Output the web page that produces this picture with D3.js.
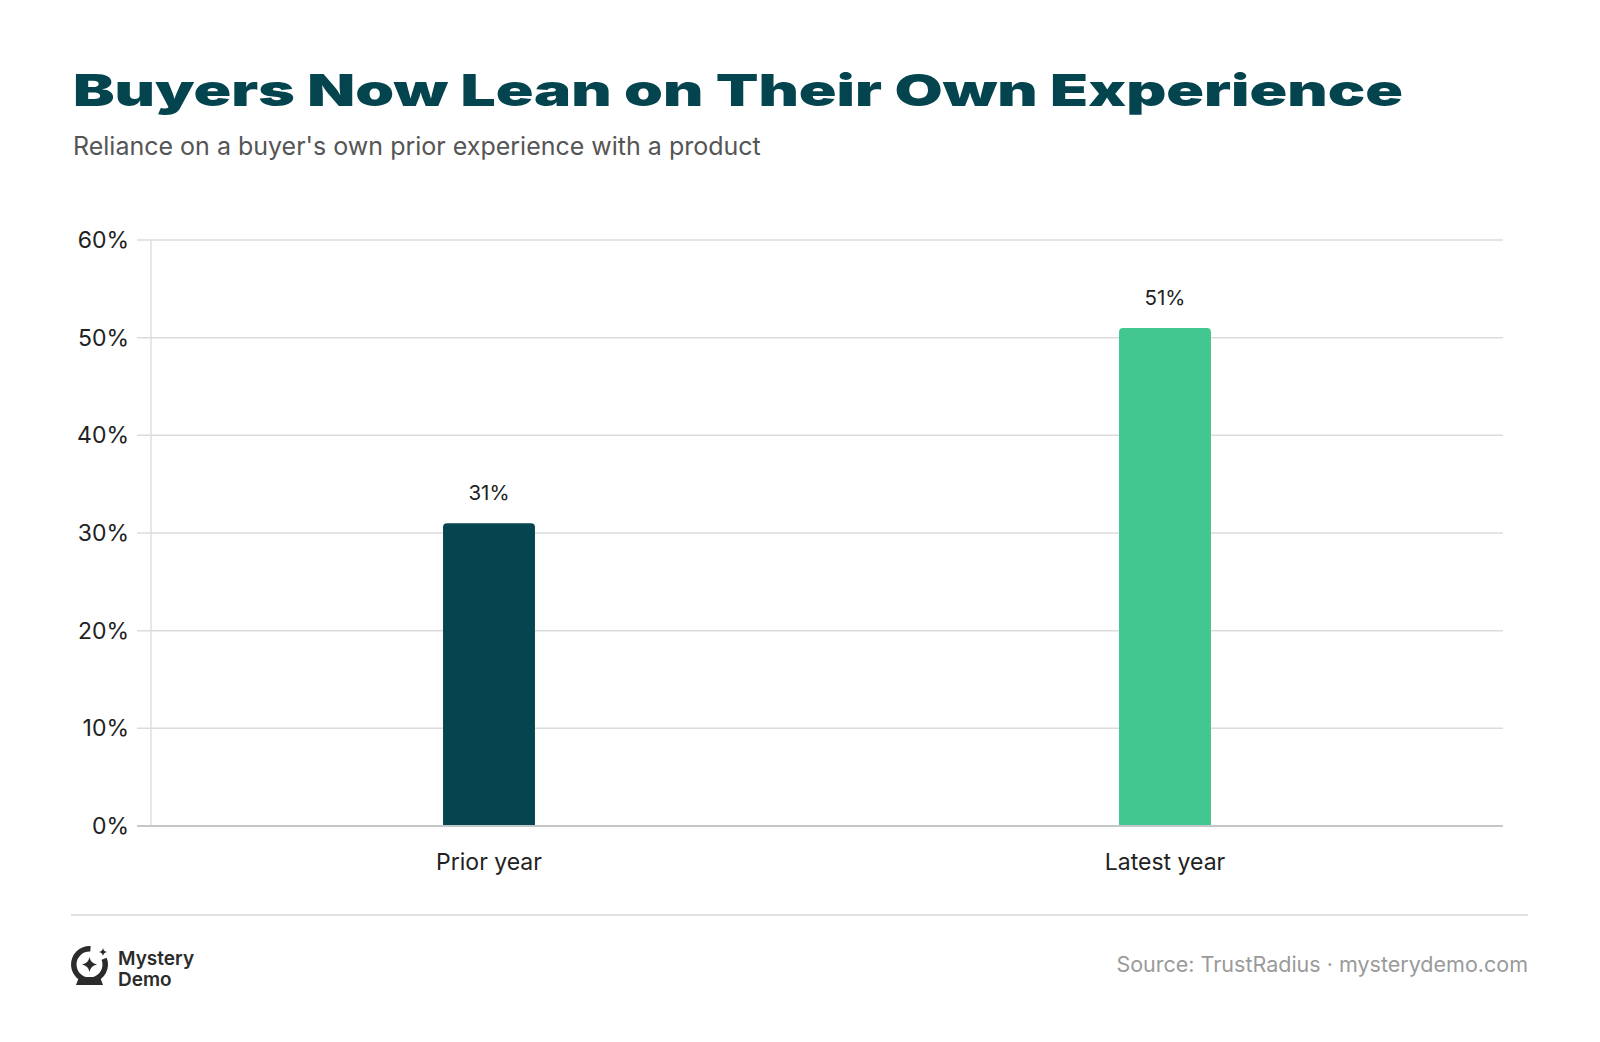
<!DOCTYPE html>
<html><head><meta charset="utf-8">
<script src="https://cdn.jsdelivr.net/npm/d3@7"></script>
<style>body{margin:0;background:#fff}svg{display:block}</style>
</head><body>
<script>
const categories = ["Prior year", "Latest year"];
const values = [31, 51];
const barColors = ["#04454f", "#41c78f"];
const yTicks = [0, 10, 20, 30, 40, 50, 60];
const titleText = "Buyers Now Lean on Their Own Experience";
const subtitleText = "Reliance on a buyer's own prior experience with a product";
const sourceText = "Source: TrustRadius · mysterydemo.com";

const W = 1600, H = 1042;
const svg = d3.select("body").append("svg").attr("width", W).attr("height", H);
svg.append("rect").attr("width", W).attr("height", H).attr("fill", "#fff");

svg.append("text").attr("x", 73).attr("y", 106)
  .attr("font-family", "Inter, 'DejaVu Sans', sans-serif").attr("font-weight", 900)
  .attr("font-size", 44).attr("fill", "#04444e")
  .attr("textLength", 1330).attr("lengthAdjust", "spacingAndGlyphs")
  .text(titleText);

svg.append("text").attr("x", 73).attr("y", 155)
  .attr("font-family", "Inter, sans-serif").attr("font-size", 25).attr("fill", "#555")
  .text(subtitleText);

const x0 = 151, x1 = 1503, yTop = 240, yBot = 826;
const x = d3.scaleBand().domain(categories).range([x0, x1]).padding(0);
const y = d3.scaleLinear().domain([0, 60]).range([yBot, yTop]);

const g = svg.append("g");
g.selectAll("line.grid").data(yTicks.filter(d => d > 0)).join("line")
  .attr("x1", 137).attr("x2", x1).attr("y1", d => y(d)).attr("y2", d => y(d))
  .attr("stroke", "#d9dcdf").attr("stroke-width", 1.5);
g.append("line").attr("x1", x0).attr("x2", x0).attr("y1", yTop).attr("y2", yBot)
  .attr("stroke", "#dcdfe2").attr("stroke-width", 1.5);

const yAxis = d3.axisLeft(y).tickValues(yTicks).tickFormat(d => d + "%").tickSize(0).tickPadding(0);
const ya = svg.append("g").attr("transform", "translate(129,0)").call(yAxis);
ya.select(".domain").remove();
ya.selectAll("text").attr("font-family", "Inter, sans-serif").attr("font-size", 23).attr("fill", "#222");

const bw = x.bandwidth() * 0.136;
const r = 4;
svg.selectAll("path.bar").data(categories).join("path")
  .attr("fill", (d, i) => barColors[i])
  .attr("d", (d, i) => {
    const cx = x(d) + x.bandwidth() / 2, l = cx - bw / 2, rr = cx + bw / 2, t = y(values[i]), b = y(0);
    return `M${l},${b}V${t + r}Q${l},${t} ${l + r},${t}H${rr - r}Q${rr},${t} ${rr},${t + r}V${b}Z`;
  });

svg.append("line").attr("x1", 137).attr("x2", x1).attr("y1", yBot).attr("y2", yBot)
  .attr("stroke", "#c4c7ca").attr("stroke-width", 2);

svg.selectAll("text.val").data(categories).join("text")
  .attr("x", d => x(d) + x.bandwidth() / 2).attr("y", (d, i) => y(values[i]) - 23)
  .attr("text-anchor", "middle").attr("font-family", "Inter, sans-serif").attr("font-size", 20.5)
  .attr("fill", "#222").text((d, i) => values[i] + "%");

const xAxis = d3.axisBottom(x).tickSize(0).tickPadding(0);
const xa = svg.append("g").attr("transform", `translate(0,${yBot + 44})`).call(xAxis);
xa.select(".domain").remove();
xa.selectAll("text").attr("font-family", "Inter, sans-serif").attr("font-size", 23).attr("fill", "#222").attr("dy", 0);

svg.append("line").attr("x1", 71).attr("x2", 1528).attr("y1", 915).attr("y2", 915)
  .attr("stroke", "#d5dadd").attr("stroke-width", 1.5);

const logo = svg.append("g").attr("transform", "translate(71,946)");
logo.append("path").attr("d", d3.arc()({innerRadius: 13, outerRadius: 18.5, startAngle: Math.PI * 0.38, endAngle: Math.PI * 2.02}))
  .attr("transform", "translate(18.5,18.5)").attr("fill", "#2b2b2b");
logo.append("path").attr("d", "M8,31 L29,31 L32,39 L5,39 Z").attr("fill", "#2b2b2b");
const star = (cx, cy, s) => `M${cx},${cy - s} Q${cx + s * 0.15},${cy - s * 0.15} ${cx + s},${cy} Q${cx + s * 0.15},${cy + s * 0.15} ${cx},${cy + s} Q${cx - s * 0.15},${cy + s * 0.15} ${cx - s},${cy} Q${cx - s * 0.15},${cy - s * 0.15} ${cx},${cy - s} Z`;
logo.append("path").attr("d", star(18.5, 18.5, 7.5)).attr("fill", "#2b2b2b");
logo.append("path").attr("d", star(32, 6, 4)).attr("fill", "#2b2b2b");
svg.append("text").attr("x", 118).attr("y", 965).attr("font-family", "Inter, sans-serif").attr("font-weight", 600)
  .attr("font-size", 19).attr("fill", "#2b2b2b").text("Mystery");
svg.append("text").attr("x", 118).attr("y", 986).attr("font-family", "Inter, sans-serif").attr("font-weight", 600)
  .attr("font-size", 19).attr("fill", "#2b2b2b").text("Demo");

svg.append("text").attr("x", 1528).attr("y", 972).attr("text-anchor", "end")
  .attr("font-family", "Inter, sans-serif").attr("font-size", 21.5).attr("fill", "#9a9a9a").text(sourceText);
</script>
</body></html>
